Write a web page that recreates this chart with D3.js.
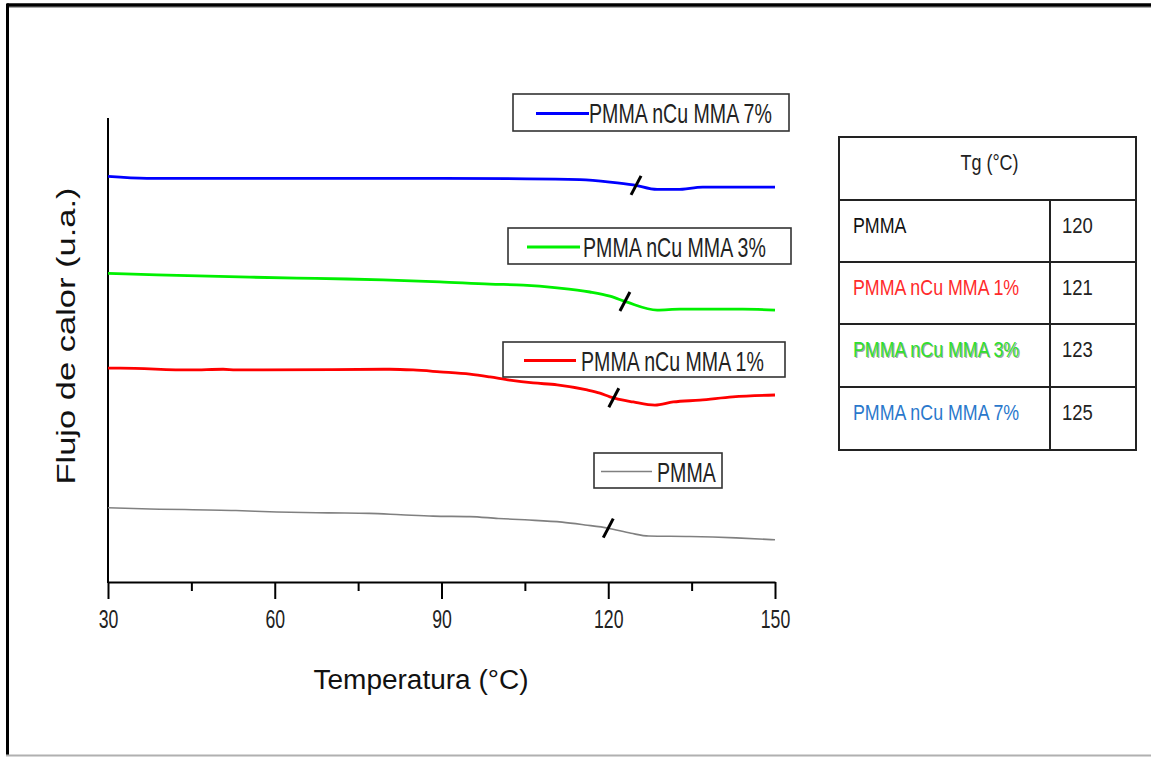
<!DOCTYPE html>
<html>
<head>
<meta charset="utf-8">
<script src="https://cdn.jsdelivr.net/npm/d3@7"></script>
<style>
  html, body { margin: 0; padding: 0; background: #fff; }
  svg { display: block; }
  text { font-family: "Liberation Sans", Arial, sans-serif; }
</style>
</head>
<body>
<svg id="chart" width="1151" height="757"></svg>
<script>
// DSC curves: temperature (°C) vs heat flow (arbitrary units, curves offset)
const pmma   = [[30,1.60],[36.1,1.58],[53,1.54],[60.4,1.51],[69.6,1.49],[77,1.48],[82.7,1.45],[88.5,1.42],[95.1,1.41],[100.2,1.37],[105,1.34],[111.7,1.29],[115.8,1.23],[120,1.16],[124.1,1.05],[127.3,0.99],[134.7,0.98],[143,0.95],[150,0.91]];
const cu1    = [[30,4.61],[32.2,4.61],[44.8,4.57],[50.7,4.585],[53,4.57],[57.9,4.57],[80.7,4.585],[84.9,4.57],[89.7,4.53],[95.1,4.48],[98.7,4.42],[102.3,4.35],[106.5,4.29],[110.8,4.25],[116.2,4.14],[118.5,4.07],[120.3,3.99],[124.5,3.88],[128.4,3.81],[131.7,3.88],[136.5,3.92],[142.4,3.99],[150,4.03]];
const cu3    = [[30,6.65],[38.8,6.62],[55.5,6.57],[64,6.55],[73,6.53],[79.5,6.51],[89.7,6.47],[98.7,6.42],[104.7,6.40],[110.8,6.34],[116.7,6.25],[120.3,6.16],[123.4,6.03],[128.8,5.86],[132.9,5.88],[144.2,5.88],[150,5.86]];
const cu7    = [[30,8.74],[37,8.70],[70,8.70],[105.4,8.69],[114.9,8.67],[120.3,8.62],[124.5,8.56],[128.8,8.46],[132.4,8.46],[137,8.51],[150,8.51]];

const seriesNames  = ["PMMA", "PMMA nCu MMA 1%", "PMMA nCu MMA 3%", "PMMA nCu MMA 7%"];
const seriesColors = ["#808080", "#ff0000", "#00f000", "#0000ff"];
const tgValues     = [120, 121, 123, 125];
const tableColors  = ["#111111", "#ff2a2a", "#2ee02e", "#2a78cc"];
const majorTicks   = [30, 60, 90, 120, 150];
const minorTicks   = [45, 75, 105, 135];

const curves = [pmma, cu1, cu3, cu7];

const svg = d3.select("#chart");

// page frame
svg.append("line").attr("x1", 7).attr("x2", 1151).attr("y1", 5).attr("y2", 5)
  .attr("stroke", "#000").attr("stroke-width", 3.5);
svg.append("line").attr("x1", 1151).attr("x2", 7).attr("y1", 7.5).attr("y2", 7.5)
  .attr("stroke", "#aaa").attr("stroke-width", 1);
svg.append("line").attr("x1", 7.5).attr("x2", 7.5).attr("y1", 3.5).attr("y2", 756)
  .attr("stroke", "#000").attr("stroke-width", 3);
svg.append("line").attr("x1", 6).attr("x2", 1151).attr("y1", 755.5).attr("y2", 755.5)
  .attr("stroke", "#b0b0b0").attr("stroke-width", 2);

const x = d3.scaleLinear().domain([30, 150]).range([108, 775]);
const y = d3.scaleLinear().domain([0, 10]).range([582, 118]);

// axes
const gx = svg.append("g").attr("transform", "translate(0,582)");
gx.call(d3.axisBottom(x).tickValues(majorTicks).tickSize(17).tickPadding(11).tickSizeOuter(0).tickFormat(d3.format("d")));
gx.select(".domain").attr("stroke-width", 2);
gx.selectAll(".tick line").attr("stroke-width", 2);
gx.selectAll(".tick text")
  .attr("font-family", "'Liberation Sans', Arial, sans-serif")
  .attr("font-size", 26).attr("fill", "#222")
  .each(function () {
    const t = d3.select(this);
    const ty = +t.attr("y");
    t.attr("y", null).attr("dy", null)
     .attr("transform", `translate(0,${ty + 18}) scale(0.68,1)`);
  });

const gm = svg.append("g").attr("transform", "translate(0,582)");
gm.call(d3.axisBottom(x).tickValues(minorTicks).tickSize(9).tickSizeOuter(0).tickFormat(""));
gm.select(".domain").remove();
gm.selectAll(".tick line").attr("stroke-width", 2);

svg.append("line").attr("x1", 108).attr("x2", 108).attr("y1", 118).attr("y2", 583)
  .attr("stroke", "#000").attr("stroke-width", 2);

// axis titles
svg.append("text")
  .attr("x", 421).attr("y", 689)
  .attr("text-anchor", "middle")
  .attr("font-family", "'Open Sans', 'Liberation Sans', sans-serif")
  .attr("font-size", 27).attr("fill", "#111")
  .attr("textLength", 215).attr("lengthAdjust", "spacingAndGlyphs")
  .text("Temperatura (°C)");

svg.append("text")
  .attr("transform", "translate(75,336) rotate(-90) scale(1,0.73)")
  .attr("text-anchor", "middle")
  .attr("font-size", 34.5).attr("fill", "#111")
  .text("Flujo de calor (u.a.)");

// curves
const line = d3.line().x(d => x(d[0])).y(d => y(d[1])).curve(d3.curveMonotoneX);
curves.forEach((c, i) => {
  svg.append("path").datum(c)
    .attr("d", line)
    .attr("fill", "none")
    .attr("stroke", seriesColors[i])
    .attr("stroke-width", i === 0 ? 1.6 : 2.8)
    .attr("stroke-linejoin", "round");
});

// Tg markers on each curve
function valueAt(c, t) {
  for (let k = 1; k < c.length; k++) {
    if (t <= c[k][0]) {
      const [t0, v0] = c[k - 1], [t1, v1] = c[k];
      return v0 + (v1 - v0) * (t - t0) / (t1 - t0);
    }
  }
  return c[c.length - 1][1];
}
curves.forEach((c, i) => {
  const cx = x(tgValues[i]), cy = y(valueAt(c, tgValues[i]));
  svg.append("line")
    .attr("x1", cx - 5).attr("y1", cy + 9.5)
    .attr("x2", cx + 5).attr("y2", cy - 9.5)
    .attr("stroke", "#000").attr("stroke-width", 3);
});

// legends, one box per curve
const legendBoxes = [
  { i: 0, x: 594, y: 453, w: 128, h: 35, l0: 601, l1: 652, tx: 657 },
  { i: 1, x: 503, y: 342, w: 282, h: 35, l0: 524, l1: 576, tx: 581 },
  { i: 2, x: 508, y: 228, w: 283, h: 36, l0: 527, l1: 580, tx: 583 },
  { i: 3, x: 513, y: 94,  w: 276, h: 37, l0: 536, l1: 589, tx: 589 }
];
legendBoxes.forEach(b => {
  const g = svg.append("g");
  g.append("rect").attr("x", b.x).attr("y", b.y).attr("width", b.w).attr("height", b.h)
    .attr("fill", "#fff").attr("stroke", "#333").attr("stroke-width", 1.6);
  const ly = b.y + b.h / 2 + 1;
  g.append("line").attr("x1", b.l0).attr("x2", b.l1).attr("y1", ly).attr("y2", ly)
    .attr("stroke", seriesColors[b.i]).attr("stroke-width", b.i === 0 ? 1.6 : 2.8);
  g.append("text")
    .attr("transform", `translate(${b.tx},${b.y + 29}) scale(0.7,1)`)
    .attr("font-size", 28).attr("fill", "#222")
    .text(seriesNames[b.i]);
});

// Tg table
const tb = { x0: 839, x1: 1136, y0: 137, col: 1050, rows: [200, 262, 324, 387, 450] };
const tg = svg.append("g");
tg.append("rect").attr("x", tb.x0).attr("y", tb.y0)
  .attr("width", tb.x1 - tb.x0).attr("height", tb.rows[4] - tb.y0)
  .attr("fill", "#fff").attr("stroke", "#222").attr("stroke-width", 2);
tb.rows.slice(0, 4).forEach(r => {
  tg.append("line").attr("x1", tb.x0).attr("x2", tb.x1).attr("y1", r).attr("y2", r)
    .attr("stroke", "#222").attr("stroke-width", 2);
});
tg.append("line").attr("x1", tb.col).attr("x2", tb.col).attr("y1", tb.rows[0]).attr("y2", tb.rows[4])
  .attr("stroke", "#222").attr("stroke-width", 2);
tg.append("text")
  .attr("transform", `translate(${(tb.x0 + tb.x1) / 2 + 2},${tb.y0 + 33}) scale(0.8,1)`)
  .attr("text-anchor", "middle").attr("font-size", 22.5).attr("fill", "#222")
  .text("Tg (°C)");
seriesNames.forEach((name, i) => {
  const top = tb.rows[i];
  if (i === 2) {
    tg.append("text")
      .attr("transform", `translate(${854.2},${top + 34.3}) scale(0.81,1)`)
      .attr("font-size", 22).attr("fill", "#8a8a8a").attr("opacity", 0.75)
      .text(name);
  }
  tg.append("text")
    .attr("transform", `translate(${853},${top + 33}) scale(0.81,1)`)
    .attr("font-size", 22).attr("fill", tableColors[i])
    .text(name);
  tg.append("text")
    .attr("transform", `translate(${1062},${top + 33}) scale(0.84,1)`)
    .attr("font-size", 22).attr("fill", "#222")
    .text(tgValues[i]);
});
</script>
</body>
</html>
